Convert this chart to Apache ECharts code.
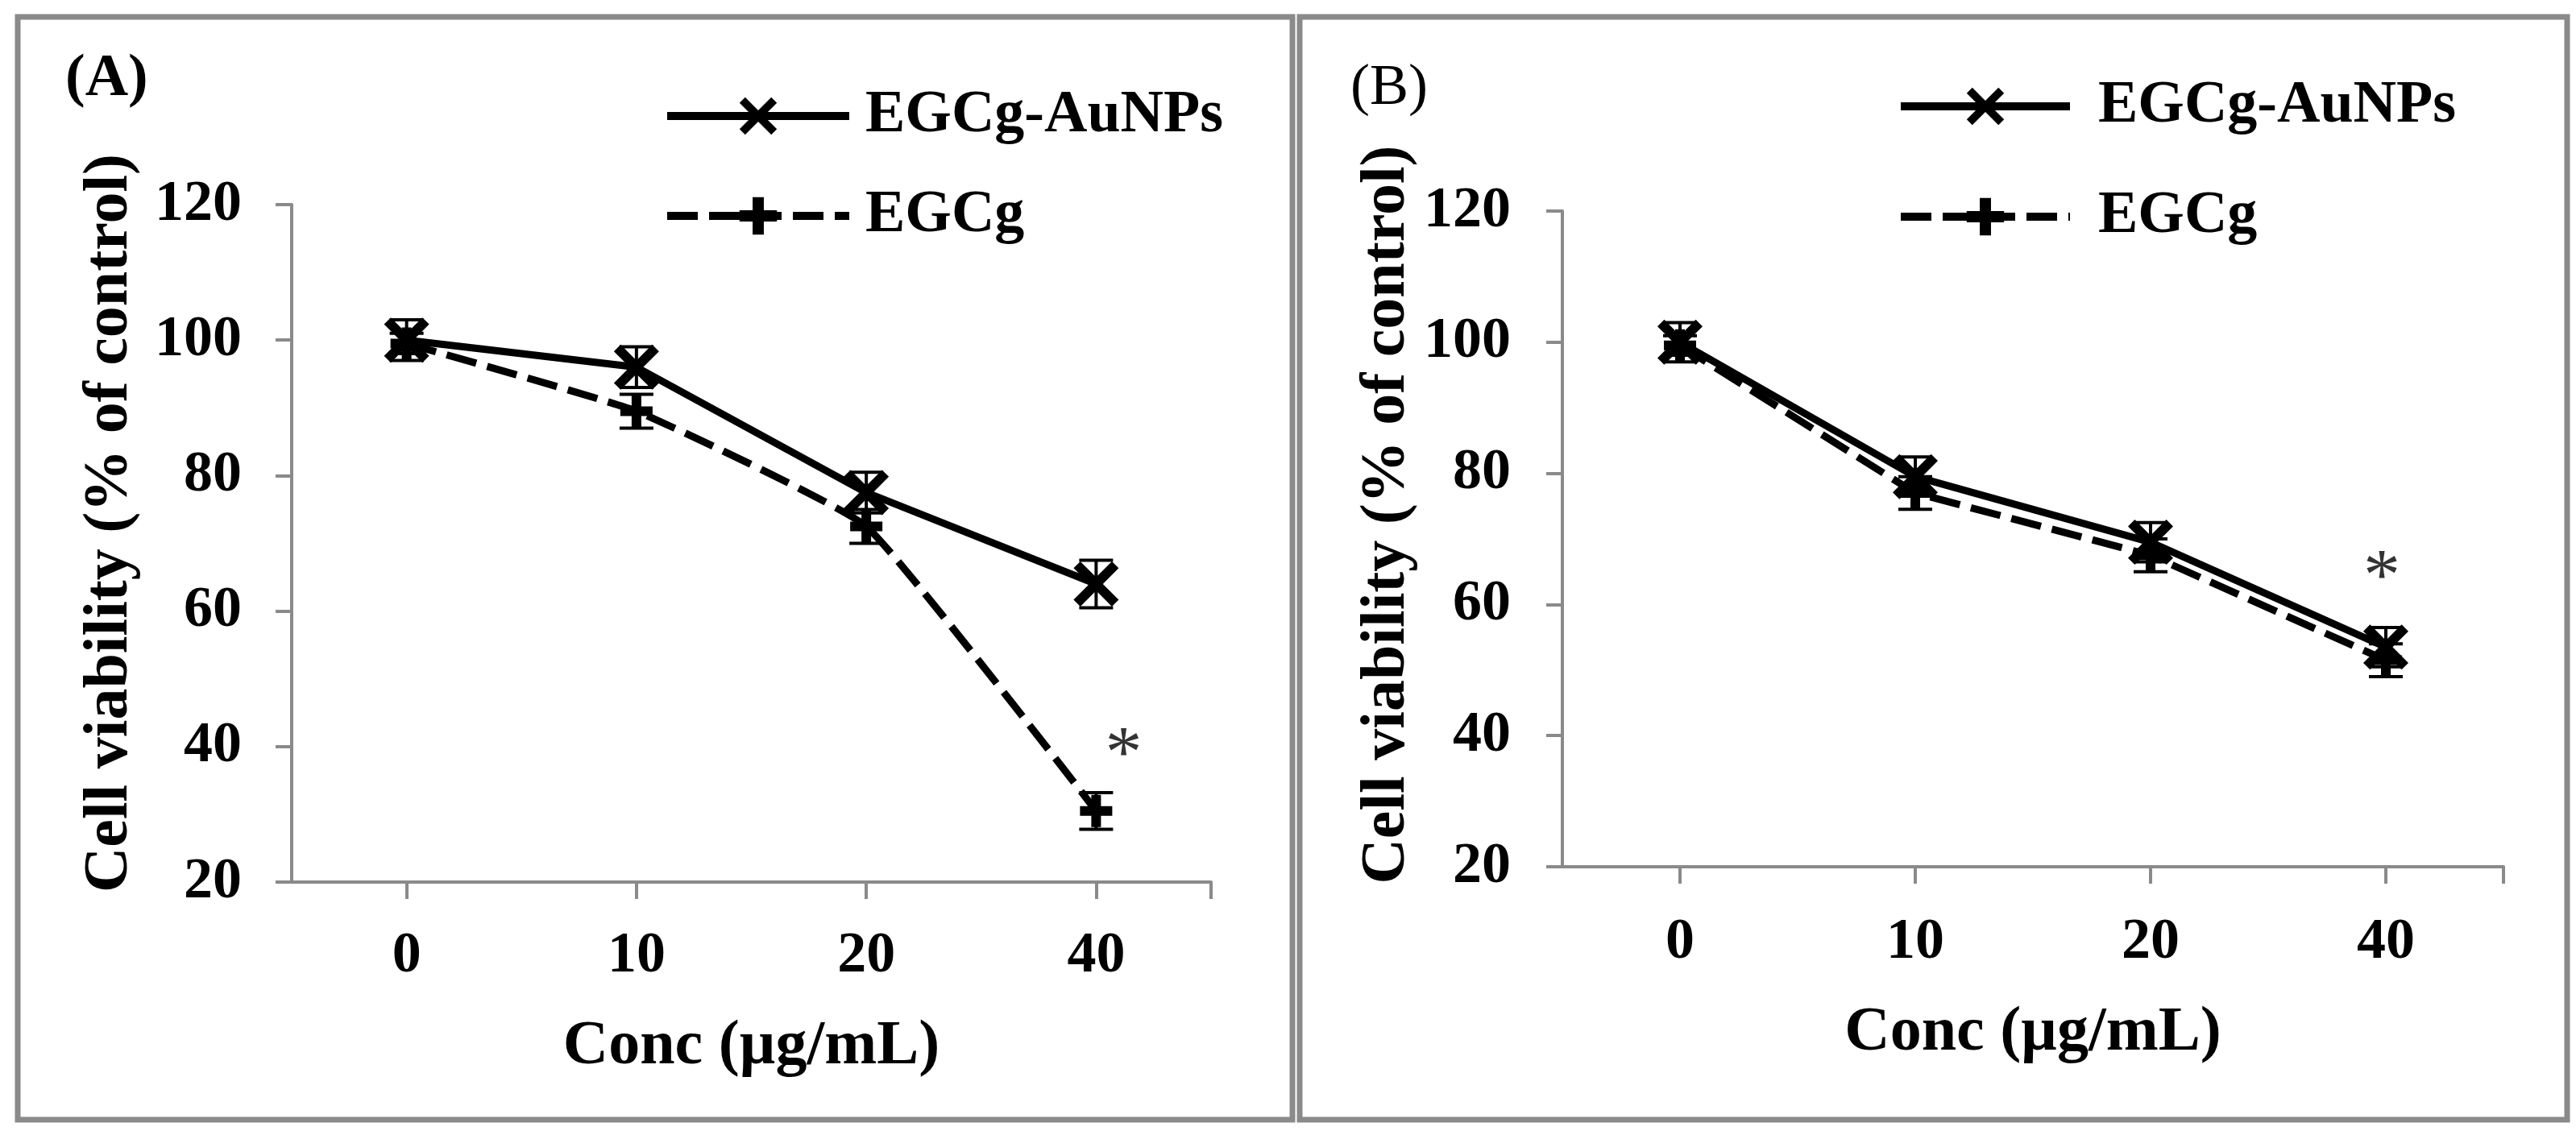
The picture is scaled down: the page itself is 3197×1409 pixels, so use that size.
<!DOCTYPE html>
<html><head><meta charset="utf-8">
<script src="https://cdn.jsdelivr.net/npm/echarts@6/dist/echarts.min.js"></script>
<style>html,body{margin:0;padding:0;background:#fff}#c{width:3197px;height:1409px}</style>
</head><body><div id="c"></div>
<script>
// ---- data ----
const categories = ['0', '10', '20', '40'];          // Conc (µg/mL)
const yMin = 20, yMax = 120, yStep = 20;
const seriesNames = ['EGCg-AuNPs', 'EGCg'];
// Panel (A)
const aAuNPs    = [100, 96, 77.5, 64];
const aAuNPsErr = [3, 3, 3, 3.5];
const aEGCg     = [99.5, 89.5, 72.5, 30.5];
const aEGCgErr  = [1.5, 2.5, 2.5, 2.7];
const aStar     = [3, 40.6];   // category index, value of the '*' annotation
// Panel (B)
const bAuNPs    = [100, 79.5, 69.5, 53.5];
const bAuNPsErr = [3, 3, 3, 3];
const bEGCg     = [99.5, 77, 67.5, 51.5];
const bEGCgErr  = [1.5, 2.5, 2.5, 2.5];
const bStar     = [3, 66];

// ---- styling ----
const FONT = 'Liberation Serif';
const GRAY = '#8a8a8a';
const X_SYM = 'path://M0,1.5 L1.5,0 L5,3.5 L8.5,0 L10,1.5 L6.5,5 L10,8.5 L8.5,10 L5,6.5 L1.5,10 L0,8.5 L3.5,5 Z';
const P_SYM = 'path://M3.5,0 H6.5 V3.5 H10 V6.5 H6.5 V10 H3.5 V6.5 H0 V3.5 H3.5 Z';
const catIdx = categories.map((c, i) => i);

function pts(vals) { return vals.map((v, i) => [i, v]); }

function errSeries(gi, vals, errs) {
  return {
    type: 'custom', xAxisIndex: gi, yAxisIndex: gi, silent: true, z: 3,
    data: vals.map((v, i) => [i, v - errs[i], v + errs[i]]),
    encode: { x: 0, y: [1, 2] },
    renderItem(params, api) {
      const x = api.value(0);
      const lo = api.coord([x, api.value(1)]);
      const hi = api.coord([x, api.value(2)]);
      const hw = 21;
      const style = { stroke: '#000', lineWidth: 4 };
      return { type: 'group', children: [
        { type: 'line', shape: { x1: lo[0], y1: lo[1], x2: hi[0], y2: hi[1] }, style },
        { type: 'line', shape: { x1: lo[0] - hw, y1: lo[1], x2: lo[0] + hw, y2: lo[1] }, style },
        { type: 'line', shape: { x1: hi[0] - hw, y1: hi[1], x2: hi[0] + hw, y2: hi[1] }, style }
      ]};
    }
  };
}

function starSeries(gi, star, dx) {
  return {
    type: 'scatter', xAxisIndex: gi, yAxisIndex: gi, silent: true, z: 6,
    data: [star], symbolSize: 1, itemStyle: { color: 'rgba(0,0,0,0)' },
    label: { show: true, formatter: '*', position: 'inside', fontFamily: FONT, fontSize: 92,
             color: '#000', offset: [dx, 18] }
  };
}

function lineSeries(gi, name, vals, dashed, smooth) {
  return {
    type: 'line', name, xAxisIndex: gi, yAxisIndex: gi, z: 5,
    data: pts(vals),
    symbol: dashed ? P_SYM : X_SYM,
    symbolSize: dashed ? 40 : 56,
    smooth: smooth || false,
    lineStyle: { color: '#000', width: 9, type: dashed ? [38, 14] : 'solid' },
    itemStyle: { color: '#000' }
  };
}

function xAxis(gi, nameGap, labelMargin) {
  return {
    gridIndex: gi, type: 'value', min: -0.5, max: 3.5,
    name: 'Conc (µg/mL)', nameLocation: 'middle', nameGap,
    nameTextStyle: { fontFamily: FONT, fontWeight: 'bold', fontSize: 78, color: '#000' },
    axisLine: { show: true, onZero: false, lineStyle: { color: GRAY, width: 4 } },
    axisTick: { show: true, length: 21, customValues: catIdx.concat([3.5]), lineStyle: { color: GRAY, width: 4 } },
    axisLabel: { customValues: catIdx, formatter: v => categories[Math.round(v)] ?? '',
                 fontFamily: FONT, fontWeight: 'bold', fontSize: 72, color: '#000', margin: labelMargin },
    splitLine: { show: false }
  };
}

function yAxis(gi, nameGap, labelMargin, shift) {
  return {
    gridIndex: gi, type: 'value', min: yMin, max: yMax, interval: yStep,
    name: 'Cell viability (% of control)', nameLocation: 'middle', nameGap,
    nameTextStyle: { fontFamily: FONT, fontWeight: 'bold', fontSize: 78, color: '#000', padding: [0, 0, 0, shift] },
    axisLine: { show: true, onZero: false, lineStyle: { color: GRAY, width: 4 } },
    axisTick: { show: true, length: 20, lineStyle: { color: GRAY, width: 4 } },
    axisLabel: { fontFamily: FONT, fontWeight: 'bold', fontSize: 72, color: '#000', margin: labelMargin },
    splitLine: { show: false }
  };
}

function legend(left, top, gap, itemWidth, textPad) {
  return {
    orient: 'vertical', left, top, itemGap: gap, itemWidth, itemHeight: 58,
    selectedMode: false, data: seriesNames,
    lineStyle: { width: 10 },
    textStyle: { fontFamily: FONT, fontWeight: 'bold', fontSize: 74, color: '#000', lineHeight: 58,
                 padding: [0, 0, 0, textPad] }
  };
}

const chart = echarts.init(document.getElementById('c'), null, { renderer: 'canvas' });
chart.setOption({
  backgroundColor: '#fff',
  animation: false,
  grid: [
    { left: 362, top: 254, width: 1141, height: 841 },
    { left: 1939, top: 262, width: 1168, height: 814 }
  ],
  xAxis: [xAxis(0, 166, 56), xAxis(1, 168, 58)],
  yAxis: [yAxis(0, 186, 62, 50), yAxis(1, 178, 64, 60)],
  legend: [legend(818, 102, 50, 226, 15), legend(2349, 90, 63, 210, 30)],
  graphic: [
    { type: 'rect', shape: { x: 22, y: 21, width: 1582, height: 1369 }, style: { fill: 'none', stroke: GRAY, lineWidth: 7 }, silent: true },
    { type: 'rect', shape: { x: 1613, y: 21, width: 1573, height: 1369 }, style: { fill: 'none', stroke: GRAY, lineWidth: 7 }, silent: true },
    { type: 'text', x: 81, y: 99, style: { text: '(A)', fontFamily: FONT, fontWeight: 'bold', fontSize: 74, fill: '#000', textAlign: 'left', textVerticalAlign: 'middle' } },
    { type: 'text', x: 1676, y: 110, style: { text: '(B)', fontFamily: FONT, fontSize: 72, fill: '#000', textAlign: 'left', textVerticalAlign: 'middle' } }
  ],
  series: [
    errSeries(0, aAuNPs, aAuNPsErr),
    errSeries(0, aEGCg, aEGCgErr),
    lineSeries(0, seriesNames[0], aAuNPs, false),
    lineSeries(0, seriesNames[1], aEGCg, true, 0.12),
    starSeries(0, aStar, 34),
    errSeries(1, bAuNPs, bAuNPsErr),
    errSeries(1, bEGCg, bEGCgErr),
    lineSeries(1, seriesNames[0], bAuNPs, false),
    lineSeries(1, seriesNames[1], bEGCg, true),
    starSeries(1, bStar, -5)
  ]
});
</script>
</body></html>
